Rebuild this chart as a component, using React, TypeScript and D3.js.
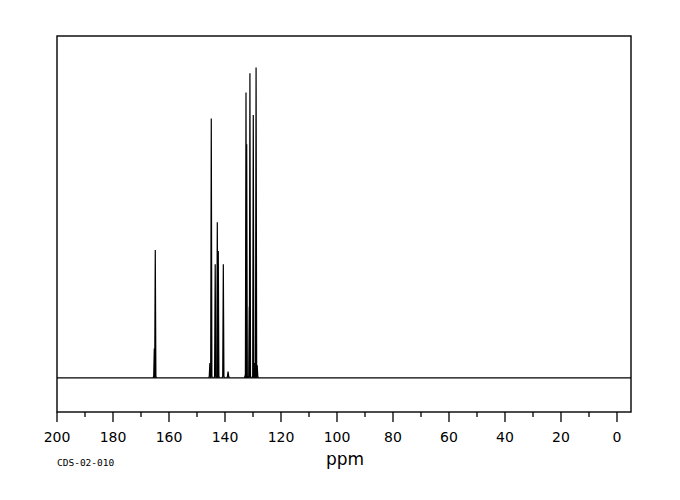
import React, { useEffect, useRef } from 'react';
import * as d3 from 'd3';

// peak positions (ppm) and intensities
const peakPpm = [165.25, 164.9, 145.4, 144.9, 143.5, 142.75, 142.4, 140.6, 138.9, 132.6, 132.5, 132.25, 131.3, 131.1, 129.9, 129.5, 128.9, 128.5];
const peakHeight = [8.6, 37.4, 4.3, 75.9, 33.2, 45.5, 37.1, 33.2, 1.8, 1.4, 83.5, 68.3, 20.8, 89.1, 76.9, 4.3, 90.8, 3.7];
const majorTicks = [200, 180, 160, 140, 120, 100, 80, 60, 40, 20, 0];
const minorTicks = [190, 170, 150, 130, 110, 90, 70, 50, 30, 10];

const width = 680;
const height = 500;
const margin = { top: 36, right: 49, bottom: 88, left: 57 };

const App: React.FC = () => {
	const svgRef = useRef<SVGSVGElement>(null);

	useEffect(() => {
		const svg = d3.select(svgRef.current);
		svg.selectAll('*').remove();

		const x = d3
			.scaleLinear()
			.domain([200, -5])
			.range([margin.left, width - margin.right]);
		const y = d3
			.scaleLinear()
			.domain([-10, 100])
			.range([height - margin.bottom, margin.top]);

		// frame
		svg
			.append('rect')
			.attr('x', x(200))
			.attr('y', y(100))
			.attr('width', x(-5) - x(200))
			.attr('height', y(-10) - y(100))
			.attr('fill', 'none')
			.attr('stroke', '#000')
			.attr('stroke-width', 1.4);

		// baseline
		svg
			.append('line')
			.attr('x1', x(200))
			.attr('x2', x(-5))
			.attr('y1', y(0))
			.attr('y2', y(0))
			.attr('stroke', '#000')
			.attr('stroke-width', 1.3);

		// peaks as narrow spikes
		const peaks = peakPpm.map((p, i) => ({ ppm: p, h: peakHeight[i] }));
		svg
			.append('g')
			.selectAll('path')
			.data(peaks)
			.enter()
			.append('path')
			.attr('d', (d) => {
				const p = d3.path();
				p.moveTo(x(d.ppm) - 1.2, y(0));
				p.lineTo(x(d.ppm) - 0.6, y(0) - 1.5);
				p.lineTo(x(d.ppm), y(d.h));
				p.lineTo(x(d.ppm) + 0.6, y(0) - 1.5);
				p.lineTo(x(d.ppm) + 1.2, y(0));
				return p.toString();
			})
			.attr('fill', 'none')
			.attr('stroke', '#000')
			.attr('stroke-width', 1.2);

		// ticks
		const axisY = y(-10);
		svg
			.append('g')
			.selectAll('line')
			.data(majorTicks)
			.enter()
			.append('line')
			.attr('x1', (d) => x(d))
			.attr('x2', (d) => x(d))
			.attr('y1', axisY)
			.attr('y2', axisY + 10)
			.attr('stroke', '#000')
			.attr('stroke-width', 1.3);
		svg
			.append('g')
			.selectAll('line')
			.data(minorTicks)
			.enter()
			.append('line')
			.attr('x1', (d) => x(d))
			.attr('x2', (d) => x(d))
			.attr('y1', axisY)
			.attr('y2', axisY + 5)
			.attr('stroke', '#000')
			.attr('stroke-width', 1.3);

		svg
			.append('g')
			.selectAll('text')
			.data(majorTicks)
			.enter()
			.append('text')
			.attr('x', (d) => x(d))
			.attr('y', axisY + 30)
			.attr('text-anchor', 'middle')
			.style('font-family', '"DejaVu Sans", sans-serif')
			.style('font-size', '14px')
			.text((d) => String(d));

		svg
			.append('text')
			.attr('x', 345)
			.attr('y', 465)
			.attr('text-anchor', 'middle')
			.style('font-family', '"DejaVu Sans", sans-serif')
			.style('font-size', '17px')
			.text('ppm');

		svg
			.append('text')
			.attr('x', 57)
			.attr('y', 466)
			.style('font-family', '"DejaVu Sans Mono", monospace')
			.style('font-size', '9.5px')
			.text('CDS-02-010');
	}, []);

	return (
		<svg
			ref={svgRef}
			width={width}
			height={height}
			style={{ position: 'absolute', left: 0, top: 0, background: '#fff' }}
		/>
	);
};

export default App;
